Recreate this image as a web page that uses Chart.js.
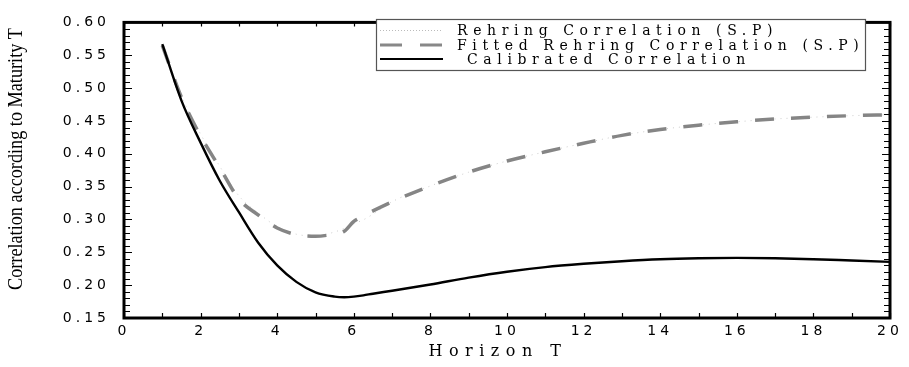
<!DOCTYPE html>
<html>
<head>
<meta charset="utf-8">
<script src="https://cdn.jsdelivr.net/npm/chart.js@4"></script>
<style>
  html, body { margin: 0; padding: 0; background: #fff; }
  canvas { display: block; }
</style>
</head>
<body>
<canvas id="corrChart" width="909" height="367"></canvas>
<script>
// values
const horizon = [1, 1.5, 2, 2.5, 3, 3.5, 4, 4.5, 5, 5.5, 5.75, 6, 6.25, 6.5, 7, 8, 9, 10, 11, 12, 13, 14, 15, 16, 17, 18, 19, 20];
const rehring = [0.567, 0.488, 0.430, 0.381, 0.336, 0.310, 0.289, 0.2775, 0.275, 0.281, 0.2865, 0.2935, 0.2995, 0.308, 0.327, 0.351, 0.372, 0.389, 0.403, 0.416, 0.428, 0.437, 0.4435, 0.4487, 0.453, 0.4557, 0.458, 0.4595];
const fitted = [0.565, 0.486, 0.427, 0.379, 0.331, 0.307, 0.287, 0.277, 0.2745, 0.278, 0.282, 0.297, 0.305, 0.313, 0.327, 0.351, 0.372, 0.389, 0.403, 0.416, 0.428, 0.437, 0.4435, 0.4487, 0.453, 0.4557, 0.458, 0.4595];
const calibrated = [0.567, 0.481, 0.417, 0.359, 0.311, 0.265, 0.230, 0.205, 0.189, 0.1825, 0.1815, 0.1825, 0.1845, 0.187, 0.1915, 0.201, 0.2115, 0.2205, 0.2275, 0.2325, 0.2365, 0.2395, 0.241, 0.2415, 0.241, 0.2395, 0.2375, 0.2355];

const xTickValues = [0, 2, 4, 6, 8, 10, 12, 14, 16, 18, 20];
const yTickValues = [0.15, 0.20, 0.25, 0.30, 0.35, 0.40, 0.45, 0.50, 0.55, 0.60];

const seriesNames = ['Rehring Correlation (S.P)', 'Fitted Rehring Correlation (S.P)', ' Calibrated Correlation'];
const xTitle = 'Horizon T';
const yTitle = 'Correlation according to Maturity T';

const pts = vals => horizon.map((h, i) => ({ x: h, y: vals[i] }));

// frame, inward ticks, legend and axis titles
const framePlugin = {
  id: 'frame',
  beforeDraw(chart) {
    chart.ctx.letterSpacing = '4px';
  },
  afterDraw(chart) {
    const { ctx, chartArea: a, scales: { x, y } } = chart;
    ctx.save();
    ctx.letterSpacing = '0px';
    ctx.strokeStyle = '#000';
    ctx.lineWidth = 1.2;
    ctx.beginPath();
    for (let i = 0; i <= 45; i++) {
      const py = Math.round(y.getPixelForValue(0.15 + i * 0.01)) + 0.5;
      const len = i % 5 === 0 ? 8 : 6;
      ctx.moveTo(a.left, py); ctx.lineTo(a.left + len, py);
      ctx.moveTo(a.right, py); ctx.lineTo(a.right - len, py);
    }
    for (let t = 0; t <= 20; t++) {
      const px = Math.round(x.getPixelForValue(t)) + 0.5;
      ctx.moveTo(px, a.bottom); ctx.lineTo(px, a.bottom - 5);
      ctx.moveTo(px, a.top); ctx.lineTo(px, a.top + 4);
    }
    ctx.stroke();
    ctx.lineWidth = 3;
    ctx.strokeRect(a.left, a.top, a.right - a.left, a.bottom - a.top);

    // legend box
    ctx.fillStyle = '#fff';
    ctx.fillRect(377, 20, 488, 50);
    ctx.lineWidth = 1.2;
    ctx.strokeStyle = '#555';
    ctx.strokeRect(376.5, 19.5, 489, 51);
    const rows = [30.5, 45, 59];
    const styles = [
      { color: '#bbb', width: 1, dash: [1, 2] },
      { color: '#888', width: 3, dash: [22, 18] },
      { color: '#000', width: 2, dash: [] }
    ];
    styles.forEach((s, i) => {
      ctx.beginPath();
      ctx.strokeStyle = s.color;
      ctx.lineWidth = s.width;
      ctx.setLineDash(s.dash);
      ctx.moveTo(380, rows[i]); ctx.lineTo(443, rows[i]);
      ctx.stroke();
    });
    ctx.setLineDash([]);
    ctx.fillStyle = '#000';
    ctx.font = '14px "DejaVu Serif"';
    ctx.letterSpacing = '5.6px';
    ctx.textAlign = 'left';
    ctx.textBaseline = 'middle';
    seriesNames.forEach((n, i) => ctx.fillText(n, 457, rows[i] + 1));

    // x title
    ctx.font = '16px "DejaVu Serif"';
    ctx.letterSpacing = '6.5px';
    ctx.textAlign = 'center';
    ctx.fillText(xTitle, 498, 352);

    // y title, narrow
    ctx.letterSpacing = '0px';
    ctx.font = '21px "Liberation Serif"';
    const w = ctx.measureText(yTitle).width;
    ctx.translate(16, 159);
    ctx.rotate(-Math.PI / 2);
    ctx.scale(262 / w, 1);
    ctx.fillText(yTitle, 0, 0);
    ctx.restore();
  }
};

const ctx = document.getElementById('corrChart').getContext('2d');

const corrChart = new Chart(ctx, {
  type: 'line',
  data: {
    datasets: [
      {
        label: seriesNames[2],
        data: pts(calibrated),
        borderColor: '#000',
        borderWidth: 2.4,
        pointRadius: 0,
        cubicInterpolationMode: 'monotone'
      },
      {
        label: seriesNames[1],
        data: pts(fitted),
        borderColor: '#858585',
        borderWidth: 3.5,
        borderDash: [19, 17],
        pointRadius: 0,
        cubicInterpolationMode: 'monotone'
      },
      {
        label: seriesNames[0],
        data: pts(rehring),
        borderColor: '#cccccc',
        borderWidth: 1,
        borderDash: [1, 5],
        pointRadius: 0,
        cubicInterpolationMode: 'monotone'
      }
    ]
  },
  options: {
    responsive: false,
    animation: false,
    devicePixelRatio: 1,
    layout: { padding: { top: 13, right: 19, left: 0, bottom: 0 } },
    plugins: {
      legend: { display: false },
      tooltip: { enabled: false }
    },
    scales: {
      x: {
        type: 'linear',
        min: 0,
        max: 20,
        afterBuildTicks: s => { s.ticks = xTickValues.map(v => ({ value: v })); },
        afterFit: s => { s.height = 49; },
        grid: { display: false, drawTicks: false },
        border: { display: false },
        ticks: {
          padding: 5,
          color: '#000',
          font: { family: 'DejaVu Sans', size: 14 },
          maxRotation: 0,
          autoSkip: false,
          callback: v => String(v)
        }
      },
      y: {
        type: 'linear',
        min: 0.15,
        max: 0.60,
        afterBuildTicks: s => { s.ticks = yTickValues.map(v => ({ value: v })); },
        afterFit: s => { s.width = 124; },
        grid: { display: false, drawTicks: false },
        border: { display: false },
        ticks: {
          padding: 14,
          color: '#000',
          font: { family: 'DejaVu Sans', size: 14 },
          autoSkip: false,
          callback: v => v.toFixed(2)
        }
      }
    }
  },
  plugins: [framePlugin]
});
</script>
</body>
</html>
